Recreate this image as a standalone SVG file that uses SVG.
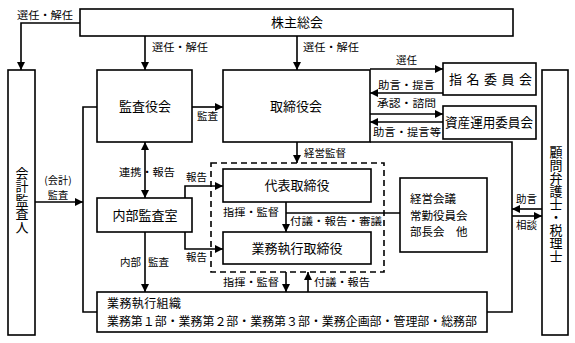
<svg xmlns="http://www.w3.org/2000/svg" width="575" height="343" viewBox="0 0 575 343">
<style>
.box{fill:#fff;stroke:#000;stroke-width:1.6}
.ln{fill:none;stroke:#000;stroke-width:1.6}
.dash{fill:none;stroke:#000;stroke-width:1.6;stroke-dasharray:6,4}
text{font-family:"Noto Sans CJK JP","Noto Sans",sans-serif;fill:#000}
.t{font-size:13px;text-anchor:middle}
.tl{font-size:13px}
.g{font-size:12px}
.k{font-size:11.5px}
.v{font-size:13px;text-anchor:middle;writing-mode:tb}
.s{font-size:10.5px}
.sc{font-size:10.2px;text-anchor:middle}
</style>
<defs>
<marker id="ah" viewBox="0 0 10 10" markerUnits="userSpaceOnUse" markerWidth="9" markerHeight="8" refX="10" refY="5" orient="auto-start-reverse">
<path d="M0,0 L10,5 L0,10 z" fill="#000"/>
</marker>
</defs>
<rect width="575" height="343" fill="#fff"/>

<g id="connectors">
<path class="ln" d="M80,23 H21 V70" marker-end="url(#ah)"/>
<path class="ln" d="M145,36 V70" marker-end="url(#ah)"/>
<path class="ln" d="M297,36 V70" marker-end="url(#ah)"/>
<path class="ln" d="M192,107 H223" marker-end="url(#ah)"/>
<path class="ln" d="M370,69 H443" marker-end="url(#ah)"/>
<path class="ln" d="M443,93 H370" marker-end="url(#ah)"/>
<path class="ln" d="M370,114 H443" marker-end="url(#ah)"/>
<path class="ln" d="M443,122 H370" marker-end="url(#ah)"/>
<path class="ln" d="M370,142 H512 V312 H487"/>
<path class="ln" d="M542,209 H512" marker-end="url(#ah)"/>
<path class="ln" d="M512,216 H542" marker-end="url(#ah)"/>
<path class="ln" d="M297,142 V163" marker-end="url(#ah)"/>
<path class="ln" d="M145,142 V198" marker-start="url(#ah)" marker-end="url(#ah)"/>
<path class="ln" d="M35,202 H83" marker-end="url(#ah)"/>
<path class="ln" d="M97,107 H83 V312 H97"/>
<path class="ln" d="M185,198 V186 H223" marker-end="url(#ah)"/>
<path class="ln" d="M185,232 V249 H223" marker-end="url(#ah)"/>
<path class="ln" d="M145,232 V292" marker-end="url(#ah)"/>
<path class="ln" d="M286,202 V232" marker-end="url(#ah)"/>
<path class="ln" d="M286,213 H400"/>
<path class="ln" d="M286,272 V292" marker-end="url(#ah)"/>
<path class="ln" d="M308,292 V272" marker-end="url(#ah)"/>
<rect class="dash" x="211" y="163" width="173" height="109"/>
</g>

<g id="labels">
<text class="s" x="17" y="19" textLength="56" lengthAdjust="spacingAndGlyphs">選任・解任</text>
<text class="s" x="152" y="51" textLength="56" lengthAdjust="spacingAndGlyphs">選任・解任</text>
<text class="s" x="303" y="51" textLength="56" lengthAdjust="spacingAndGlyphs">選任・解任</text>
<text class="s" x="197" y="120">監査</text>
<text class="s" x="396" y="64">選任</text>
<text class="s" x="378" y="89" textLength="57" lengthAdjust="spacingAndGlyphs">助言・提言</text>
<text class="s" x="377" y="107" textLength="59" lengthAdjust="spacingAndGlyphs">承認・諮問</text>
<text class="s" x="373" y="136" textLength="68" lengthAdjust="spacingAndGlyphs">助言・提言等</text>
<text class="s" x="304" y="157">経営監督</text>
<text class="s" x="119" y="176" textLength="56" lengthAdjust="spacingAndGlyphs">連携・報告</text>
<text class="s" x="186" y="181">報告</text>
<text class="s" x="186" y="261">報告</text>
<text class="sc" x="58" y="184">(会計)</text>
<text class="sc" x="58" y="199">監査</text>
<text class="s" x="223" y="216" textLength="56" lengthAdjust="spacingAndGlyphs">指揮・監督</text>
<text class="s" x="290" y="225" textLength="92" lengthAdjust="spacingAndGlyphs">付議・報告・審議</text>
<text class="s" x="120" y="266">内部</text>
<text class="s" x="148" y="266">監査</text>
<text class="s" x="223" y="286" textLength="56" lengthAdjust="spacingAndGlyphs">指揮・監督</text>
<text class="s" x="314" y="286" textLength="56" lengthAdjust="spacingAndGlyphs">付議・報告</text>
<text class="s" x="516" y="203">助言</text>
<text class="s" x="516" y="229">相談</text>
</g>

<g id="kabunushi">
<rect class="box" x="80" y="9" width="433" height="27"/>
<text class="t" x="297" y="27">株主総会</text>
</g>
<g id="kaikei">
<rect class="box" x="8" y="70" width="27" height="265"/>
<text class="v" x="22" y="200" letter-spacing="0.5">会計監査人</text>
</g>
<g id="kansayakukai">
<rect class="box" x="97" y="70" width="95" height="72"/>
<text class="t" x="145" y="111">監査役会</text>
</g>
<g id="torishimariyakukai">
<rect class="box" x="223" y="70" width="147" height="72"/>
<text class="t" x="296" y="111">取締役会</text>
</g>
<g id="shimei">
<rect class="box" x="443" y="63" width="93" height="32"/>
<text class="tl" x="449" y="84" textLength="83" lengthAdjust="spacing">指名委員会</text>
</g>
<g id="shisan">
<rect class="box" x="443" y="106" width="93" height="33"/>
<text class="tl" x="445" y="127" textLength="88" lengthAdjust="spacingAndGlyphs">資産運用委員会</text>
</g>
<g id="komon">
<rect class="box" x="542" y="70" width="26" height="265"/>
<text class="v" x="556" y="204">顧問弁護士・税理士</text>
</g>
<g id="naibukansa">
<rect class="box" x="97" y="198" width="95" height="34"/>
<text class="t" x="145" y="220">内部監査室</text>
</g>
<g id="daihyo">
<rect class="box" x="223" y="169" width="148" height="33"/>
<text class="t" x="297" y="190">代表取締役</text>
</g>
<g id="gyomushikko">
<rect class="box" x="223" y="232" width="148" height="32"/>
<text class="t" x="297" y="253">業務執行取締役</text>
</g>
<g id="keiei">
<rect class="box" x="400" y="178" width="87" height="74"/>
<text class="k" x="410" y="203">経営会議</text>
<text class="k" x="410" y="219.7">常勤役員会</text>
<text class="k" x="410" y="236.4" xml:space="preserve">部長会　他</text>
</g>
<g id="soshiki">
<rect class="box" x="97" y="292" width="390" height="40"/>
<text class="g" x="107" y="308" textLength="74" lengthAdjust="spacing">業務執行組織</text>
<text class="g" x="107" y="326" textLength="370" lengthAdjust="spacingAndGlyphs">業務第１部・業務第２部・業務第３部・業務企画部・管理部・総務部</text>
</g>
</svg>
